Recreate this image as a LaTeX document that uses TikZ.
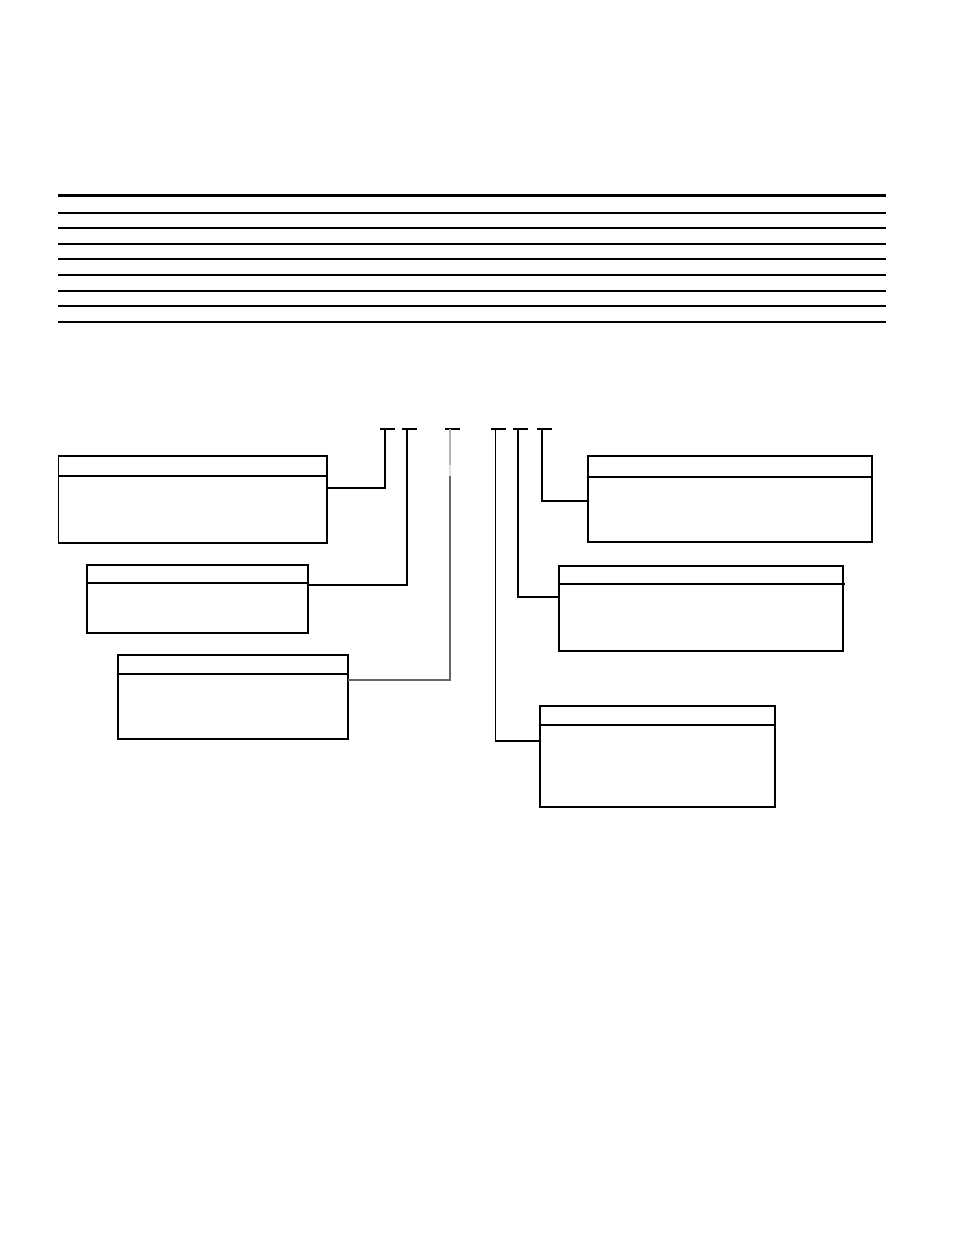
\documentclass[tikz,border=0pt]{standalone}
\begin{document}
\begin{tikzpicture}[x=1pt,y=-1pt,
  box/.style={draw=black,line width=1.6pt,rectangle,inner sep=0pt,outer sep=0pt,anchor=north west,fill=none},
  hdr/.style={draw=black,line width=1.2pt},
  conn/.style={draw=black,line width=1.2pt},
  rule/.style={draw=black,line width=1.3pt},
  tick/.style={draw=black,line width=1.2pt}]
\useasboundingbox (0,0) rectangle (954,1235);
% table rules
\draw[line width=3pt] (58,195) -- (886,195);
\foreach \yy in {213,228,244,259,275,291,306,322}
  \draw[rule] (58,\yy) -- (886,\yy);
% boxes
\node[box,minimum width=268.5pt,minimum height=87pt] (b1) at (58.5,456) {};
\node[box,minimum width=221pt,minimum height=68pt] (b2) at (87,565) {};
\node[box,minimum width=230pt,minimum height=84pt] (b3) at (118,655) {};
\node[box,minimum width=284pt,minimum height=86pt] (r1) at (588,456) {};
\node[box,minimum width=284pt,minimum height=85pt] (r2) at (559,566) {};
\node[box,minimum width=235pt,minimum height=101pt] (r3) at (540,706) {};
% header lines
\draw[hdr] ([yshift=-20pt]b1.north west) -- ([yshift=-20pt]b1.north east);
\draw[hdr] ([yshift=-18pt]b2.north west) -- ([yshift=-18pt]b2.north east);
\draw[hdr] ([yshift=-19pt]b3.north west) -- ([yshift=-19pt]b3.north east);
\draw[hdr] ([yshift=-21pt]r1.north west) -- ([yshift=-21pt]r1.north east);
\draw[hdr] ([yshift=-18pt]r2.north west) -- ([xshift=2pt,yshift=-18pt]r2.north east);
\draw[hdr] ([yshift=-19pt]r3.north west) -- ([yshift=-19pt]r3.north east);
% tick points
\coordinate (t1) at (385,429);
\coordinate (t2) at (407,429);
\coordinate (t3) at (450,429);
\coordinate (t4) at (495.5,429);
\coordinate (t5) at (518,429);
\coordinate (t6) at (542,429);
\foreach \t in {t1,t2,t3,t4,t5,t6}
  \draw[tick] ([xshift=-5pt]\t) -- ([xshift=10pt]\t);
% connectors
\draw[conn] (t1) |- ([yshift=-32pt]b1.north east);
\draw[conn] (t2) |- ([yshift=-20pt]b2.north east);
\coordinate (t3m) at ([yshift=-36pt]t3);
\coordinate (t3n) at ([yshift=-47pt]t3);
\draw[line width=1.2pt,draw=black!30] (t3) -- (t3m);
\draw[line width=1.2pt,draw=black!12] (t3m) -- (t3n);
\draw[line width=1.2pt,draw=black!60] (t3n) |- ([yshift=-25pt]b3.north east);
\draw[conn] (t4) |- ([yshift=-35pt]r3.north west);
\draw[conn] (t5) |- ([yshift=-31pt]r2.north west);
\draw[conn] (t6) |- ([yshift=-45pt]r1.north west);
\end{tikzpicture}
\end{document}
